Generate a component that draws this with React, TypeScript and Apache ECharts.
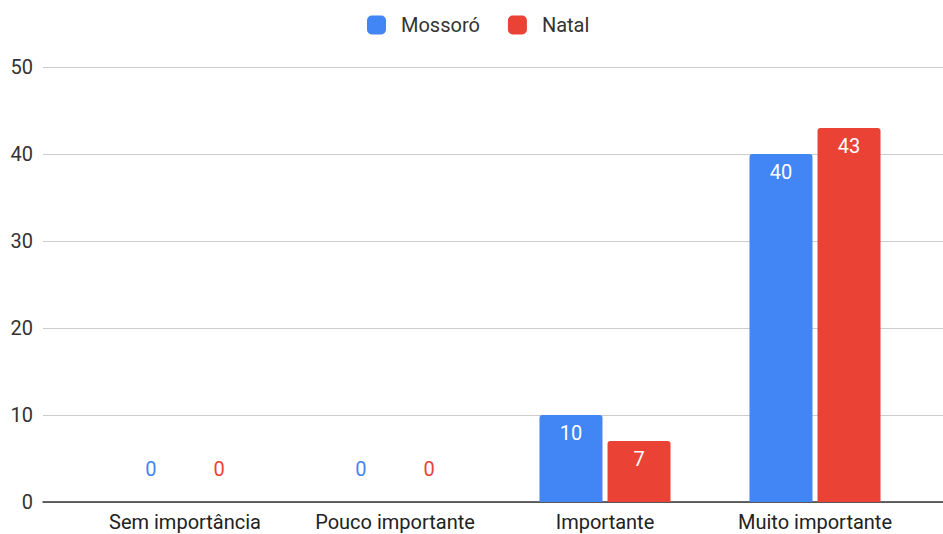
import React, { useEffect, useRef } from "react";
import * as echarts from "echarts";

const categories = ["Sem importância", "Pouco importante", "Importante", "Muito importante"];
const mossoro = [0, 0, 10, 40];
const natal = [0, 0, 7, 43];
const yTicks = [0, 10, 20, 30, 40, 50];

const BLUE = "#4285F4";
const RED = "#EA4335";
const FONT = "Roboto, Arial, sans-serif";
const FS = 20;

function buildData(values: number[], color: string) {
  return values.map((v) =>
    v === 0
      ? {
          value: v,
          label: { show: true, position: "top", distance: 23, color, fontWeight: "normal" },
        }
      : { value: v }
  );
}

export default function App() {
  const ref = useRef<HTMLDivElement>(null);
  useEffect(() => {
    if (!ref.current) return;
    const chart = echarts.init(ref.current, undefined, { renderer: "svg" });
    const top = 67;
    const bottom = 32;
    chart.setOption({
      animation: false,
      textStyle: { fontFamily: FONT },
      legend: {
        top: 10,
        left: 362,
        padding: 5,
        itemWidth: 19,
        itemHeight: 19,
        itemGap: 28,
        icon: "roundRect",
        textStyle: { fontSize: FS, color: "#333", fontFamily: FONT, padding: [0, 0, 0, 10] },
        data: ["Mossoró", "Natal"],
      },
      grid: [
        { left: 43, right: 0, top, bottom },
        { left: 80, right: 23, top, bottom },
      ],
      xAxis: [
        {
          gridIndex: 0,
          type: "category",
          data: categories,
          axisLine: { show: true, lineStyle: { color: "#333", width: 1.5 } },
          axisTick: { show: false },
          axisLabel: { show: false },
        },
        {
          gridIndex: 1,
          type: "category",
          data: categories,
          axisLine: { show: false },
          axisTick: { show: false },
          axisLabel: { fontSize: FS, color: "#222", margin: 10, fontFamily: FONT },
        },
      ],
      yAxis: [
        {
          gridIndex: 0,
          type: "value",
          min: yTicks[0],
          max: yTicks[yTicks.length - 1],
          interval: 10,
          axisLine: { show: false },
          axisTick: { show: false },
          axisLabel: { fontSize: FS, color: "#333", margin: 10, fontFamily: FONT },
          splitLine: { lineStyle: { color: "#cccccc", width: 1 } },
        },
        {
          gridIndex: 1,
          type: "value",
          min: yTicks[0],
          max: yTicks[yTicks.length - 1],
          interval: 10,
          show: false,
          splitLine: { show: false },
        },
      ],
      series: [
        {
          name: "Mossoró",
          type: "bar",
          xAxisIndex: 1,
          yAxisIndex: 1,
          data: buildData(mossoro, BLUE),
          barWidth: 63,
          barGap: "8%",
          itemStyle: { color: BLUE, borderRadius: [3, 3, 0, 0] },
          label: {
            show: true,
            position: "insideTop",
            distance: 8,
            color: "#fff",
            fontSize: FS,
            fontFamily: FONT,
          },
        },
        {
          name: "Natal",
          type: "bar",
          xAxisIndex: 1,
          yAxisIndex: 1,
          data: buildData(natal, RED),
          barWidth: 63,
          barGap: "8%",
          itemStyle: { color: RED, borderRadius: [3, 3, 0, 0] },
          label: {
            show: true,
            position: "insideTop",
            distance: 8,
            color: "#fff",
            fontSize: FS,
            fontFamily: FONT,
          },
        },
      ],
    });
    return () => chart.dispose();
  }, []);
  return <div ref={ref} style={{ width: 943, height: 534, position: "absolute", left: 0, top: 0 }} />;
}
